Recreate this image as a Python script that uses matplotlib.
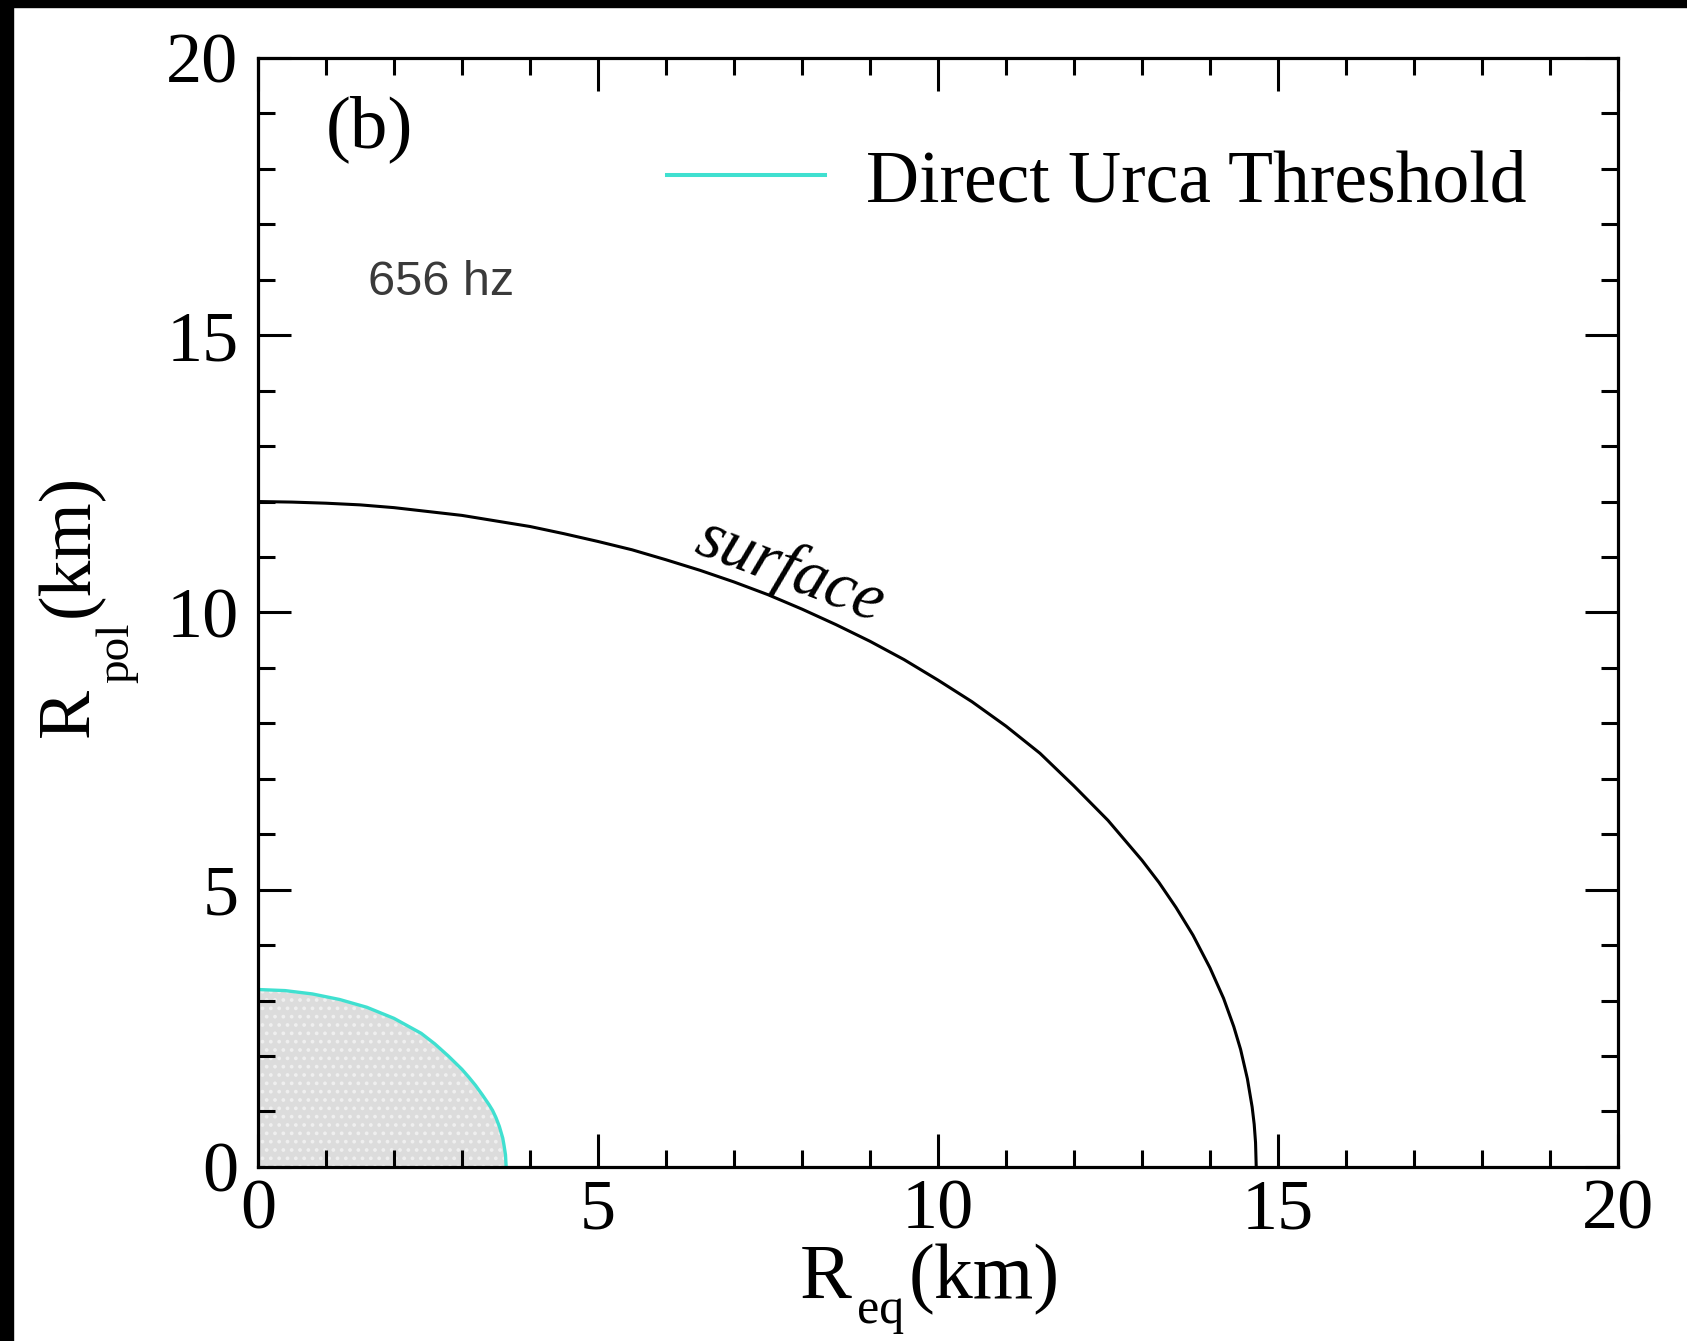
import matplotlib
matplotlib.use("Agg")
import matplotlib.pyplot as plt
from matplotlib.patches import Rectangle

# stellar surface contour, equatorial vs polar radius (km)
surface_req = [0, 0.5, 1, 1.5, 2, 2.5, 3, 3.5, 4, 4.5, 5, 5.5, 6, 6.5, 7, 7.5,
               8, 8.5, 9, 9.5, 10, 10.5, 11, 11.5, 12, 12.5, 13, 13.25, 13.5,
               13.75, 14.0, 14.2, 14.35, 14.45, 14.55, 14.62, 14.65, 14.67, 14.68]
surface_rpol = [12.0, 11.99, 11.97, 11.94, 11.89, 11.82, 11.75, 11.65, 11.55,
                11.42, 11.28, 11.13, 10.95, 10.76, 10.55, 10.32, 10.06, 9.78,
                9.48, 9.15, 8.78, 8.39, 7.95, 7.46, 6.87, 6.25, 5.53, 5.13,
                4.68, 4.18, 3.59, 3.04, 2.53, 2.12, 1.59, 1.08, 0.77, 0.44, 0.0]

# region above the direct Urca density threshold (km)
urca_req = [0, 0.4, 0.8, 1.2, 1.6, 2.0, 2.4, 2.6, 2.8, 3.0, 3.1, 3.2, 3.3,
            3.4, 3.45, 3.5, 3.55, 3.6, 3.62, 3.64, 3.65]
urca_rpol = [3.2, 3.18, 3.12, 3.02, 2.88, 2.68, 2.41, 2.22, 2.0, 1.76, 1.62,
             1.47, 1.3, 1.12, 1.02, 0.89, 0.73, 0.52, 0.38, 0.22, 0.0]

x_ticks = [0, 5, 10, 15, 20]
y_ticks = [0, 5, 10, 15, 20]

panel_tag = "(b)"
spin_label = "656 hz"
legend_label = "Direct Urca Threshold"
curve_label = "surface"

# axis titles as (text, size, drop below baseline in px)
xlabel_parts = [("R", 56, 0), ("eq", 36, 25), ("(km)", 56, 0)]
ylabel_parts = [("R", 53, 0), ("pol", 34, 40), ("(km)", 53, 0)]

W, H = 1687, 1341


def put_label(fig, renderer, parts, x0, y0, vertical):
    # lay the pieces out one after another, starting at pixel (x0, y0) from top-left
    pos = 0.0
    for text, size, drop in parts:
        if vertical:
            px, py, rot = x0 + drop, y0 - pos, 90
        else:
            px, py, rot = x0 + pos, y0 + drop, 0
        t = fig.text(px / W, 1 - py / H, text, fontsize=size, rotation=rot,
                     rotation_mode='anchor', ha='left', va='baseline')
        bb = t.get_window_extent(renderer)
        pos += (bb.height if vertical else bb.width) + 5


def make_plot():
    plt.rcParams['font.family'] = 'Liberation Serif'
    plt.rcParams['hatch.color'] = '#efefef'
    plt.rcParams['hatch.linewidth'] = 1.5

    fig = plt.figure(figsize=(W / 100, H / 100), dpi=100)
    ax = fig.add_axes([0.1529, 0.1298, 0.8062, 0.8270])

    # shaded Urca core + its boundary
    ax.fill_between(urca_req, urca_rpol, 0, facecolor='#dcdcdc',
                    edgecolor='#efefef', linewidth=0, hatch='..', zorder=1)
    ax.plot(urca_req, urca_rpol, color='#40e0d0', lw=2.4, zorder=2,
            label=legend_label)

    # surface
    ax.plot(surface_req, surface_rpol, color='black', lw=2.2, zorder=3)

    ax.set_xlim(0, 20)
    ax.set_ylim(0, 20)
    ax.set_xticks(x_ticks)
    ax.set_yticks(y_ticks)
    ax.set_xticks(range(0, 21), minor=True)
    ax.set_yticks(range(0, 21), minor=True)
    ax.tick_params(which='both', direction='in', top=True, right=True,
                   width=2.2, labelsize=52)
    ax.tick_params(which='major', length=24)
    ax.tick_params(which='minor', length=12)
    ax.tick_params(axis='x', pad=8)
    ax.tick_params(axis='y', pad=14)
    for sp in ax.spines.values():
        sp.set_linewidth(2.3)

    ax.text(1.0, 18.39, panel_tag, fontsize=54, ha='left', va='baseline')
    ax.text(1.62, 15.73, spin_label, fontsize=35, family='Liberation Sans',
            color='#3a3a3a', ha='left', va='baseline')
    ax.text(7.82, 10.75, curve_label, fontsize=48, style='italic',
            rotation=-21, rotation_mode='anchor', ha='center', va='center')

    ax.legend(loc='center left', bbox_to_anchor=(0.3007, 0.887),
              frameon=False, fontsize=53, handlelength=2.15,
              handletextpad=0.55, borderpad=0, borderaxespad=0)
    ax.get_legend().get_lines()[0].set_linewidth(2.9)

    renderer = fig.canvas.get_renderer()
    put_label(fig, renderer, xlabel_parts, 800, 1298, vertical=False)
    put_label(fig, renderer, ylabel_parts, 88, 737, vertical=True)

    # dark frame along the top and left edges of the image
    fig.add_artist(Rectangle((0, 1 - 7 / H), 1, 7 / H,
                             transform=fig.transFigure, color='black'))
    fig.add_artist(Rectangle((0, 0), 13 / W, 1,
                             transform=fig.transFigure, color='black'))

    fig.savefig("out.png", dpi=100)


if __name__ == "__main__":
    make_plot()
